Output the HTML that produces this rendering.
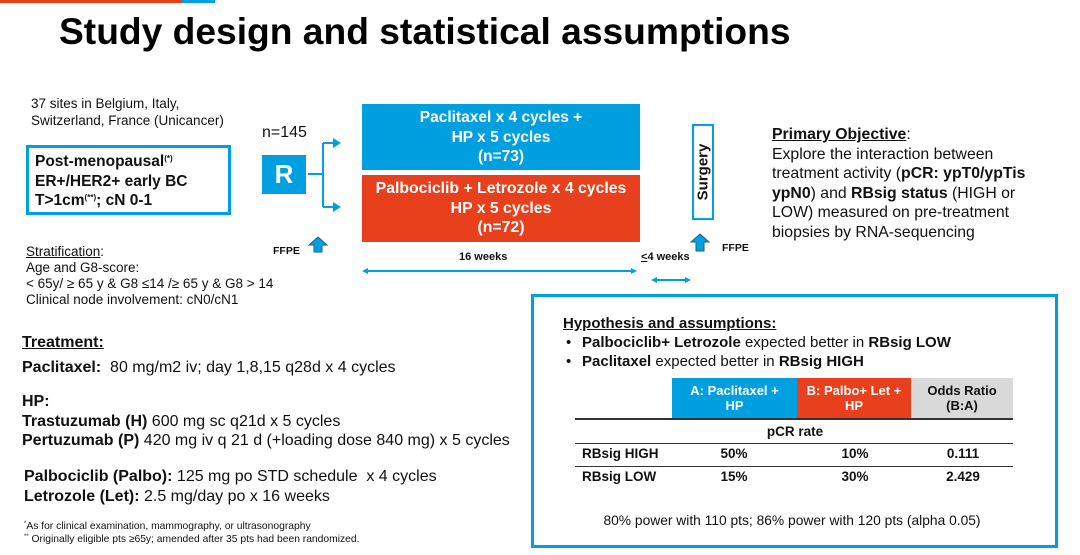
<!DOCTYPE html><html><head><meta charset="utf-8"><style>
body{margin:0;width:1080px;height:555px;position:relative;background:#fff;font-family:"Liberation Sans",Arial,sans-serif;color:#111;overflow:hidden}
.a{position:absolute;white-space:nowrap}
.b{font-weight:bold}
.u{text-decoration:underline}
.bx{position:absolute;box-sizing:border-box}
.c{text-align:center}
sup{line-height:0;vertical-align:0;position:relative;top:-0.6em}
</style></head><body>
<div class="bx" style="left:0;top:0;width:182px;height:3px;background:#e8401c"></div>
<div class="bx" style="left:182px;top:0;width:33px;height:3px;background:#00a0e0"></div>
<div class="a b" style="left:59px;top:9px;font-size:37.2px;line-height:44px;color:#000">Study design and statistical assumptions</div>

<div class="a" style="left:31px;top:95px;font-size:13.5px;line-height:17px">37 sites in Belgium, Italy,<br>Switzerland, France (Unicancer)</div>
<div class="a" style="left:262px;top:124px;font-size:16px">n=145</div>
<div class="bx" style="left:26px;top:145px;width:205px;height:70px;border:3px solid #00a0e0"></div>
<div class="a b" style="left:35px;top:152px;font-size:15.5px;line-height:19.5px">Post-menopausal<sup style="font-size:8px">(*)</sup><br>ER+/HER2+ early BC<br>T&gt;1cm<sup style="font-size:8px">(**)</sup>; cN 0-1</div>
<div class="bx c b" style="left:262px;top:155px;width:44px;height:39px;background:#00a0e0;color:#fff;font-size:26px;line-height:39px">R</div>
<svg class="bx" style="left:0;top:0" width="1080" height="555">
<g stroke="#00a0e0" stroke-width="2" fill="#00a0e0">
<line x1="308" y1="174" x2="323" y2="174"/><line x1="323" y1="143" x2="323" y2="207"/>
<line x1="323" y1="143" x2="334" y2="143"/><line x1="323" y1="207" x2="334" y2="207"/>
<polygon points="333,138 341,143 333,148" stroke="none"/><polygon points="333,202 341,207 333,212" stroke="none"/>
<line x1="366" y1="271" x2="632" y2="271"/><polygon points="362,271 368,268 368,274" stroke="none"/><polygon points="637,271 631,268 631,274" stroke="none"/>
<line x1="654" y1="280" x2="688" y2="280"/><polygon points="651,280 657,277 657,283" stroke="none"/><polygon points="691,280 685,277 685,283" stroke="none"/>
</g>
<polygon points="318,237 327,245 322,245 322,252 314,252 314,245 309,245" fill="#00a0e0" stroke="#1a5f8a" stroke-width="1"/>
<polygon points="700,234 709,242 704,242 704,251 696,251 696,242 691,242" fill="#00a0e0" stroke="#1a5f8a" stroke-width="1"/>
</svg>
<div class="a b" style="left:273px;top:245px;font-size:10.5px">FFPE</div>
<div class="a b" style="left:722px;top:242px;font-size:10.5px">FFPE</div>

<div class="a" style="left:26px;top:244px;font-size:13.5px;line-height:16px"><span class="u">Stratification</span>:<br>Age and G8-score:<br>&lt; 65y/ ≥ 65 y &amp; G8 ≤14 /≥ 65 y &amp; G8 &gt; 14<br>Clinical node involvement: cN0/cN1</div>

<div class="bx c b" style="left:362px;top:104px;width:278px;height:66px;background:#00a0e0;color:#fff;font-size:15.5px;line-height:19.5px;padding-top:4px">Paclitaxel x 4 cycles +<br>HP x 5 cycles<br>(n=73)</div>
<div class="bx c b" style="left:362px;top:175px;width:278px;height:67px;background:#e8401c;color:#fff;font-size:15.8px;line-height:19.5px;padding-top:4px">Palbociclib + Letrozole x 4 cycles<br>HP x 5 cycles<br>(n=72)</div>
<div class="a b" style="left:459px;top:251px;font-size:11px">16 weeks</div>
<div class="a b" style="left:641px;top:251px;font-size:11px"><u>&lt;</u>4 weeks</div>
<div class="bx" style="left:692px;top:124px;width:22px;height:96px;border:2px solid #00a0e0"></div>
<div class="a b" style="left:703px;top:172px;font-size:15px;transform:translate(-50%,-50%) rotate(-90deg)">Surgery</div>

<div class="a" style="left:772px;top:125px;font-size:15.8px;line-height:19.5px"><span class="b u">Primary Objective</span>:<br>Explore the interaction between<br>treatment activity (<b>pCR: ypT0/ypTis</b><br><b>ypN0</b>) and <b>RBsig status</b> (HIGH or<br>LOW) measured on pre-treatment<br>biopsies by RNA-sequencing</div>

<div class="a" style="left:22px;top:330px;font-size:16px;line-height:25px"><span class="b u">Treatment:</span><br><b>Paclitaxel:</b>&nbsp; 80 mg/m2 iv; day 1,8,15 q28d x 4 cycles</div>
<div class="a" style="left:22px;top:392px;font-size:16px;line-height:19.5px"><b>HP:</b><br><b>Trastuzumab (H)</b> 600 mg sc q21d x 5 cycles<br><b>Pertuzumab (P)</b> 420 mg iv q 21 d (+loading dose 840 mg) x 5 cycles</div>
<div class="a" style="left:24px;top:467px;font-size:16px;line-height:19.5px"><b>Palbociclib (Palbo):</b> 125 mg po STD schedule&nbsp; x 4 cycles<br><b>Letrozole (Let):</b> 2.5 mg/day po x 16 weeks</div>
<div class="a" style="left:24px;top:520px;font-size:10.3px;line-height:13px"><sup style="font-size:6px">*</sup>As for clinical examination, mammography, or ultrasonography<br><sup style="font-size:6px">**</sup> Originally eligible pts ≥65y; amended after 35 pts had been randomized.</div>

<div class="bx" style="left:531px;top:294px;width:527px;height:254px;border:3px solid #00a0e0"></div>
<div class="a" style="left:563px;top:314px;font-size:15px;line-height:19px"><span class="b u">Hypothesis and assumptions:</span></div>
<div class="a" style="left:566px;top:333px;font-size:15px;line-height:19px">•<br>•</div>
<div class="a" style="left:582px;top:333px;font-size:15px;line-height:19px"><b>Palbociclib+ Letrozole</b> expected better in <b>RBsig LOW</b><br><b>Paclitaxel</b> expected better in <b>RBsig HIGH</b></div>
<div class="bx c b" style="left:672px;top:378px;width:125px;height:40px;background:#00a0e0;color:#fff;font-size:13px;line-height:15px;padding-top:5px">A: Paclitaxel +<br>HP</div>
<div class="bx c b" style="left:797px;top:378px;width:114px;height:40px;background:#e8401c;color:#fff;font-size:13px;line-height:15px;padding-top:5px">B: Palbo+ Let +<br>HP</div>
<div class="bx c b" style="left:911px;top:378px;width:102px;height:40px;background:#d9d9d9;font-size:13px;line-height:15px;padding-top:5px">Odds Ratio<br>(B:A)</div>
<div class="bx" style="left:575px;top:418px;width:438px;height:2px;background:#333"></div>
<div class="bx" style="left:575px;top:443px;width:438px;height:1px;background:#333"></div>
<div class="bx" style="left:575px;top:466px;width:438px;height:1px;background:#333"></div>
<div class="a b c" style="left:745px;top:424px;width:100px;font-size:13.5px">pCR rate</div>
<div class="a b" style="left:582px;top:446px;font-size:13.5px">RBsig HIGH</div>
<div class="a b" style="left:582px;top:469px;font-size:13.5px">RBsig LOW</div>
<div class="a b c" style="left:704px;top:446px;width:60px;font-size:13.5px">50%</div>
<div class="a b c" style="left:825px;top:446px;width:60px;font-size:13.5px">10%</div>
<div class="a b c" style="left:933px;top:446px;width:60px;font-size:13.5px">0.111</div>
<div class="a b c" style="left:704px;top:469px;width:60px;font-size:13.5px">15%</div>
<div class="a b c" style="left:825px;top:469px;width:60px;font-size:13.5px">30%</div>
<div class="a b c" style="left:933px;top:469px;width:60px;font-size:13.5px">2.429</div>
<div class="a c" style="left:542px;top:513px;width:500px;font-size:13.8px">80% power with 110 pts; 86% power with 120 pts (alpha 0.05)</div>
</body></html>
